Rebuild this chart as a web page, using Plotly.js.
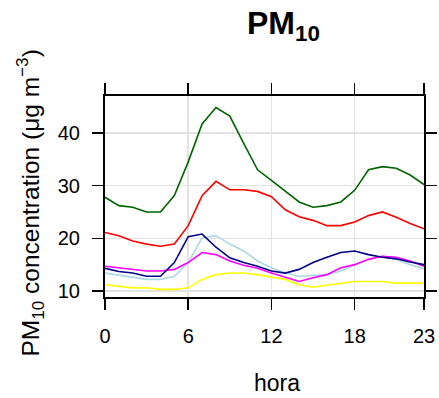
<!DOCTYPE html>
<html><head><meta charset="utf-8">
<script src="https://cdn.plot.ly/plotly-3.0.1.min.js"></script>
<style>body{margin:0;padding:0;background:#fff}#chart{width:439px;height:398px}</style>
</head><body><div id="chart"></div>
<script>
const hours = [0,1,2,3,4,5,6,7,8,9,10,11,12,13,14,15,16,17,18,19,20,21,22,23];
const xTicks = [0,6,12,18,23];
const yTicks = [10,20,30,40];
const greenSeries = [27.8,26.2,25.9,25.0,25.0,28.1,34.5,41.7,44.8,43.2,38.0,33.0,31.0,28.9,26.9,25.9,26.2,26.9,29.1,33.0,33.6,33.3,32.0,30.2];
const redSeries = [21.1,20.5,19.5,18.9,18.5,18.9,22.4,28.1,30.8,29.2,29.2,28.9,27.9,25.4,24.1,23.4,22.4,22.4,23.1,24.3,25.0,24.0,22.8,21.8];
const navySeries = [14.3,13.7,13.4,12.8,12.8,15.4,20.3,20.8,18.3,16.3,15.4,14.7,13.8,13.4,14.1,15.4,16.4,17.3,17.6,16.9,16.4,16.1,15.5,15.0];
const lightBlueSeries = [13.4,13.0,12.7,12.2,12.2,12.8,15.4,20.1,20.5,18.9,17.6,15.7,14.4,13.4,12.8,13.0,13.1,13.8,14.9,16.0,16.6,16.0,15.0,14.2];
const magentaSeries = [14.7,14.4,14.1,13.8,13.8,14.1,15.4,17.3,16.9,15.7,14.9,14.3,13.4,12.6,11.8,12.5,13.1,14.4,15.0,16.0,16.6,16.4,15.7,14.7];
const yellowSeries = [11.2,10.9,10.6,10.6,10.3,10.3,10.6,12.2,13.1,13.4,13.4,13.1,12.6,12.2,11.2,10.7,11.1,11.5,11.8,11.8,11.8,11.5,11.5,11.5];

const seriesList = [
  {y: yellowSeries, color: '#ffff00'},
  {y: lightBlueSeries, color: '#add8e6'},
  {y: magentaSeries, color: '#ff00ff'},
  {y: navySeries, color: '#00008b'},
  {y: redSeries, color: '#ff0000'},
  {y: greenSeries, color: '#006400'}
];
const traces = seriesList.map(s => ({
  x: hours, y: s.y, type: 'scatter', mode: 'lines',
  line: {color: s.color, width: 1.6}, showlegend: false, hoverinfo: 'skip'
}));

const font = {family: 'Liberation Sans, Arial, sans-serif', color: '#000'};
const layout = {
  width: 439, height: 398,
  margin: {l: 105, r: 15, t: 96, b: 101, pad: 0},
  paper_bgcolor: '#fff', plot_bgcolor: '#fff',
  font: Object.assign({size: 18}, font),
  xaxis: {
    range: [0, 23], tickvals: xTicks, ticktext: xTicks.map(String),
    showgrid: true, gridcolor: '#e3e3e3', gridwidth: 1.5,
    showline: true, linecolor: '#000', linewidth: 2, mirror: 'ticks',
    ticks: 'outside', ticklen: 11, tickwidth: 1.5, tickcolor: '#000',
    tickfont: Object.assign({size: 20}, font), zeroline: false, ticklabelstandoff: 9
  },
  yaxis: {
    range: [8.86, 47], tickvals: yTicks, ticktext: yTicks.map(String),
    showgrid: true, gridcolor: '#e3e3e3', gridwidth: 1.5,
    showline: true, linecolor: '#000', linewidth: 2, mirror: 'ticks',
    ticks: 'outside', ticklen: 11, tickwidth: 1.5, tickcolor: '#000',
    tickfont: Object.assign({size: 20}, font), zeroline: false, ticklabelstandoff: 8
  },
  annotations: [
    {text: '<b>PM<sub>10</sub></b>', xref: 'paper', yref: 'paper', x: 0.561, y: 1.35,
     xanchor: 'center', yanchor: 'middle', showarrow: false, font: Object.assign({size: 32}, font)},
    {text: 'hora', xref: 'paper', yref: 'paper', x: 0.539, y: -0.43,
     xanchor: 'center', yanchor: 'middle', showarrow: false, font: Object.assign({size: 23}, font)},
    {text: 'PM<sub>10</sub> concentration (μg m<sup>−3</sup>)', xref: 'paper', yref: 'paper', x: -0.235, y: 0.465,
     xanchor: 'center', yanchor: 'middle', textangle: -90, showarrow: false, font: Object.assign({size: 24.5}, font)}
  ]
};
Plotly.newPlot('chart', traces, layout, {staticPlot: true, displayModeBar: false});
</script></body></html>
